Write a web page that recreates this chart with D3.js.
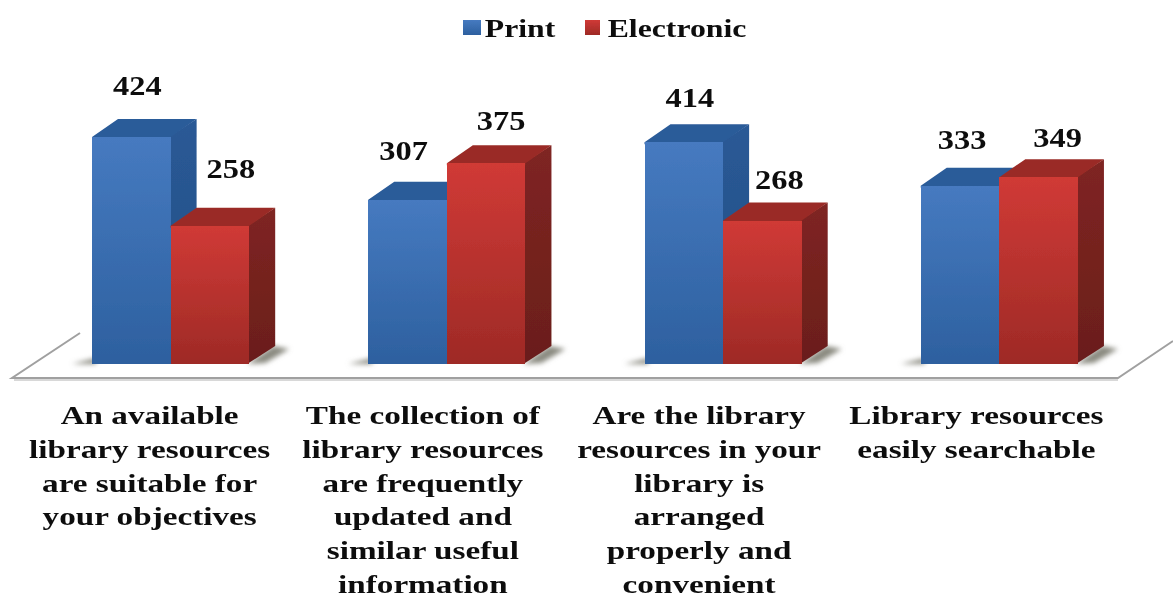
<!DOCTYPE html>
<html><head><meta charset="utf-8">
<script src="https://cdn.jsdelivr.net/npm/d3@7"></script>
<style>html,body{margin:0;padding:0;background:#fff;overflow:hidden}svg{display:block}
text{font-family:"Liberation Serif",serif;font-weight:bold;fill:#0c0c0c}</style>
</head><body><div id="c"></div>
<script>
const categories=[
 ["An available","library resources","are suitable for","your objectives"],
 ["The collection of","library resources","are frequently","updated and","similar useful","information"],
 ["Are the library","resources in your","library is","arranged","properly and","convenient"],
 ["Library resources","easily searchable"]];
const seriesNames=["Print","Electronic"];
const printValues=[424,307,414,333];
const electronicValues=[258,375,268,349];

const W=1173,H=599,base=364,barW=78.6,dx=26,dy=18;
const svg=d3.select("#c").append("svg").attr("width",W).attr("height",H);
const defs=svg.append("defs");
const soft=defs.append("filter").attr("id","soft").attr("x","-5%").attr("y","-5%").attr("width","110%").attr("height","110%");
soft.append("feGaussianBlur").attr("stdDeviation",0.6);
const softT=defs.append("filter").attr("id","softT").attr("x","-5%").attr("y","-20%").attr("width","110%").attr("height","140%");
softT.append("feGaussianBlur").attr("stdDeviation",0.5);
const sh=defs.append("filter").attr("id","sh").attr("x","-50%").attr("y","-100%").attr("width","200%").attr("height","300%");
sh.append("feGaussianBlur").attr("stdDeviation",2.5);
const pal=[{t:"#467ac0",b:"#2d609f",top:"#2b5b99",side:["#2a5a96","#234d83"]},
           {t:"#d03a36",b:"#9e2a26",top:"#9a2c26",side:["#7f2522","#6a1e1b"]}];
pal.forEach((p,i)=>{
 const g=defs.append("linearGradient").attr("id","f"+i).attr("x1",0).attr("y1",0).attr("x2",0).attr("y2",1);
 g.append("stop").attr("offset",0).attr("stop-color",p.t);
 g.append("stop").attr("offset",1).attr("stop-color",p.b);
 const s=defs.append("linearGradient").attr("id","s"+i).attr("x1",0).attr("y1",0).attr("x2",0).attr("y2",1);
 s.append("stop").attr("offset",0).attr("stop-color",p.side[0]);
 s.append("stop").attr("offset",1).attr("stop-color",p.side[1]);
});

const x0=d3.scaleBand().domain(d3.range(categories.length)).range([92,1197]).paddingInner(0).paddingOuter(0).align(0);
const y=d3.scaleLinear().domain([0,424]).range([base,137]);
const series=[printValues,electronicValues];

// floor
const floor=svg.append("g").attr("filter","url(#soft)");
floor.append("path").attr("d",d3.line()([[80,333],[12,378],[1118,378],[1173,341]]))
 .attr("fill","none").attr("stroke","#a0a0a0").attr("stroke-width",2);
floor.append("path").attr("d",d3.line()([[14,380],[1118,380]])).attr("fill","none").attr("stroke","#d8d8d8").attr("stroke-width",2);

// bar shadows on the floor
categories.forEach((c,i)=>{
 const l=x0(i), r=l+barW*2;
 svg.append("path").attr("filter","url(#sh)").attr("fill","#8a8a80")
  .attr("d",d3.line()([[l-20,364],[l+4,358],[l+4,364]])+"Z");
 svg.append("path").attr("filter","url(#sh)").attr("fill","#8a8a80")
  .attr("d",d3.line()([[r-2,364],[r+dx-2,346],[r+dx+14,349],[r+16,363]])+"Z");
});

// bars
const bars=svg.append("g").attr("filter","url(#soft)");
categories.forEach((c,i)=>{
 series.forEach((vals,s)=>{
  const l=x0(i)+s*barW, r=l+barW, t=y(vals[i]), g=bars.append("g");
  g.append("path").attr("fill",`url(#s${s})`).attr("d",d3.line()([[r-2,t],[r+dx,t-dy],[r+dx,base-dy],[r-2,base]])+"Z");
  g.append("path").attr("fill",pal[s].top).attr("d",d3.line()([[l,t+2],[l,t],[l+dx,t-dy],[r+dx,t-dy],[r,t],[r,t+2]])+"Z");
  g.append("rect").attr("x",l).attr("y",t).attr("width",barW).attr("height",base-t).attr("fill",`url(#f${s})`).attr("shape-rendering","crispEdges");
 });
});

const txt=svg.append("g").attr("filter","url(#softT)");
function label(str,cx,by,size,sx){
 txt.append("text").text(str).attr("text-anchor","middle").attr("font-size",size)
  .attr("transform",`translate(${cx},${by}) scale(${sx},1)`);
}
// value labels: nudge from the bar's rear-top centre
const nudge=[[[-7,-24],[8,-30]],[[-17,-22],[2,-15]],[[-7,-17],[4,-14]],[[-11,-19],[6,-12]]];
categories.forEach((c,i)=>series.forEach((vals,s)=>{
 const cx=x0(i)+s*barW+barW/2+dx/2, top=y(vals[i])-dy;
 label(String(vals[i]),cx+nudge[i][s][0],top+nudge[i][s][1],27,1.2);
}));
// category labels
const labelShift=[-21,-24,-24,-23];
categories.forEach((lines,i)=>lines.forEach((ln,j)=>{
 label(ln,x0(i)+barW+labelShift[i],424+j*33.8,26,1.277);
}));
// legend
const lx=[463,585], ltx=[520,677];
seriesNames.forEach((n,i)=>{
 svg.append("rect").attr("x",lx[i]).attr("y",20).attr("width",i?15:18).attr("height",15)
  .attr("fill",`url(#f${i})`).attr("filter","url(#soft)");
 label(n,ltx[i],37,25,1.27);
});
</script></body></html>
